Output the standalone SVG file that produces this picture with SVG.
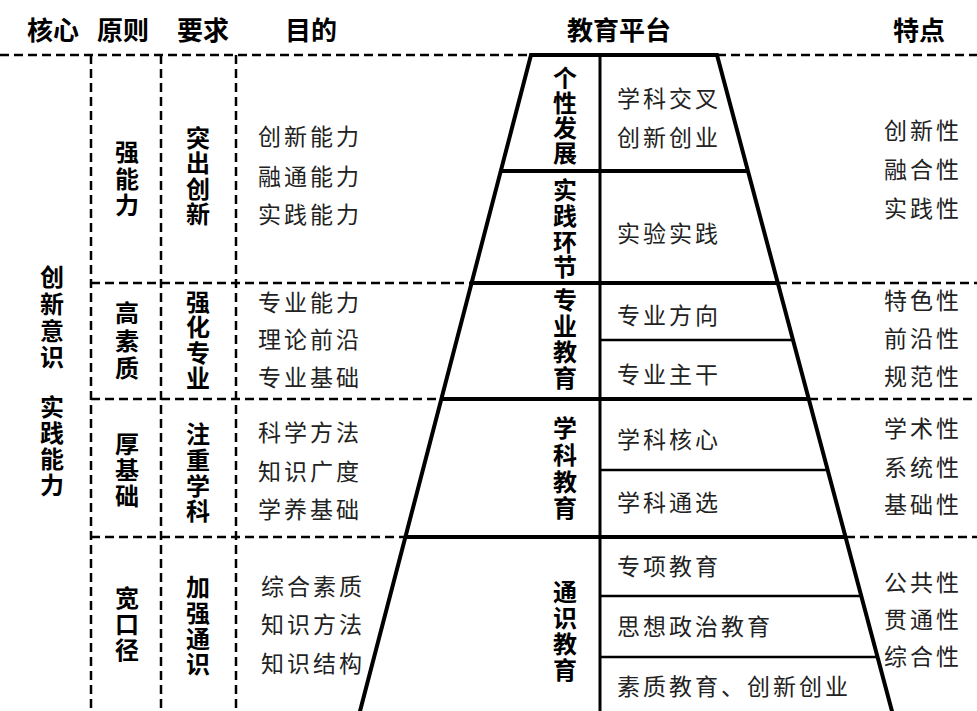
<svg xmlns="http://www.w3.org/2000/svg" width="977" height="711" viewBox="0 0 977 711">
<style>
.hd{font-family:"Noto Sans CJK SC","Noto Sans CJK JP",sans-serif;font-weight:bold;font-size:26px;fill:#000}
.bv{font-family:"Noto Sans CJK SC","Noto Sans CJK JP",sans-serif;font-weight:bold;font-size:24px;fill:#000;writing-mode:vertical-rl}
.rt{font-family:"Noto Sans CJK SC","Noto Sans CJK JP",sans-serif;font-size:23px;fill:#222;letter-spacing:3px}
.dash{stroke:#000;stroke-width:2.5;stroke-dasharray:9 5;fill:none}
.thick{stroke:#000;stroke-width:4;fill:none}
.thin{stroke:#000;stroke-width:2.5;fill:none}
</style>
<rect width="977" height="711" fill="#fff"/>
<g id="header">
<text class="hd" x="27" y="40">核心</text>
<text class="hd" x="97" y="40">原则</text>
<text class="hd" x="177" y="40">要求</text>
<text class="hd" x="285" y="40">目的</text>
<text class="hd" x="567" y="40">教育平台</text>
<text class="hd" x="893" y="40">特点</text>
</g>
<g id="connectors">
<line class="dash" x1="0" y1="55" x2="531" y2="55"/>
<line class="dash" x1="717" y1="55" x2="977" y2="55"/>
<line class="dash" x1="91" y1="55" x2="91" y2="711"/>
<line class="dash" x1="161" y1="55" x2="161" y2="711"/>
<line class="dash" x1="236" y1="55" x2="236" y2="711"/>
<line class="dash" x1="91" y1="283" x2="471" y2="283"/>
<line class="dash" x1="91" y1="399" x2="441" y2="399"/>
<line class="dash" x1="91" y1="537" x2="405" y2="537"/>
<line class="dash" x1="778" y1="283" x2="977" y2="283"/>
<line class="dash" x1="809" y1="399" x2="977" y2="399"/>
<line class="dash" x1="846" y1="537" x2="977" y2="537"/>
</g>
<g id="core">
<text class="bv" x="52" y="265" letter-spacing="2.7">创新意识</text>
<text class="bv" x="52" y="395" letter-spacing="2">实践能力</text>
</g>
<g id="row1">
<text class="bv" x="127" y="140" letter-spacing="2.5">强能力</text>
<text class="bv" x="198" y="126" letter-spacing="1.3">突出创新</text>
<text class="rt" x="258" y="145">创新能力</text>
<text class="rt" x="258" y="185">融通能力</text>
<text class="rt" x="258" y="223">实践能力</text>
<text class="rt" x="884" y="139">创新性</text>
<text class="rt" x="884" y="178">融合性</text>
<text class="rt" x="884" y="217">实践性</text>
</g>
<g id="row2">
<text class="bv" x="127" y="301" letter-spacing="3.5">高素质</text>
<text class="bv" x="198" y="290" letter-spacing="1.3">强化专业</text>
<text class="rt" x="258" y="311">专业能力</text>
<text class="rt" x="258" y="348">理论前沿</text>
<text class="rt" x="258" y="386">专业基础</text>
<text class="rt" x="884" y="309">特色性</text>
<text class="rt" x="884" y="347">前沿性</text>
<text class="rt" x="884" y="385">规范性</text>
</g>
<g id="row3">
<text class="bv" x="127" y="432" letter-spacing="2">厚基础</text>
<text class="bv" x="198" y="422" letter-spacing="1.7">注重学科</text>
<text class="rt" x="258" y="441">科学方法</text>
<text class="rt" x="258" y="480">知识广度</text>
<text class="rt" x="258" y="518">学养基础</text>
<text class="rt" x="884" y="437">学术性</text>
<text class="rt" x="884" y="476">系统性</text>
<text class="rt" x="884" y="513">基础性</text>
</g>
<g id="row4">
<text class="bv" x="127" y="586" letter-spacing="2">宽口径</text>
<text class="bv" x="198" y="575" letter-spacing="1.7">加强通识</text>
<text class="rt" x="261" y="595">综合素质</text>
<text class="rt" x="261" y="633">知识方法</text>
<text class="rt" x="261" y="672">知识结构</text>
<text class="rt" x="884" y="591">公共性</text>
<text class="rt" x="884" y="628">贯通性</text>
<text class="rt" x="884" y="665">综合性</text>
</g>
<g id="pyramid">
<polyline class="thick" points="359,715 531,55 717,55 893,715"/>
<line x1="600" y1="55" x2="600" y2="711" stroke="#000" stroke-width="3"/>
<line class="thick" x1="501" y1="171" x2="748" y2="171"/>
<line class="thick" x1="471" y1="283" x2="778" y2="283"/>
<line class="thick" x1="441" y1="399" x2="809" y2="399"/>
<line class="thick" x1="405" y1="537" x2="846" y2="537"/>
<line class="thin" x1="600" y1="340" x2="793" y2="340"/>
<line class="thin" x1="600" y1="470" x2="828" y2="470"/>
<line class="thin" x1="600" y1="596" x2="861" y2="596"/>
<line class="thin" x1="600" y1="657" x2="878" y2="657"/>
</g>
<g id="tier-personal">
<text class="bv" x="565" y="66" letter-spacing="1">个性发展</text>
<text class="rt" x="617" y="107">学科交叉</text>
<text class="rt" x="617" y="146">创新创业</text>
</g>
<g id="tier-practice">
<text class="bv" x="565" y="178" letter-spacing="1.7">实践环节</text>
<text class="rt" x="617" y="242">实验实践</text>
</g>
<g id="tier-major">
<text class="bv" x="565" y="288" letter-spacing="2">专业教育</text>
<text class="rt" x="617" y="324">专业方向</text>
<text class="rt" x="617" y="383">专业主干</text>
</g>
<g id="tier-discipline">
<text class="bv" x="565" y="416" letter-spacing="2.7">学科教育</text>
<text class="rt" x="617" y="448">学科核心</text>
<text class="rt" x="617" y="511">学科通选</text>
</g>
<g id="tier-general">
<text class="bv" x="565" y="580" letter-spacing="2">通识教育</text>
<text class="rt" x="617" y="575">专项教育</text>
<text class="rt" x="617" y="635">思想政治教育</text>
<text class="rt" x="617" y="695">素质教育、创新创业</text>
</g>
</svg>
